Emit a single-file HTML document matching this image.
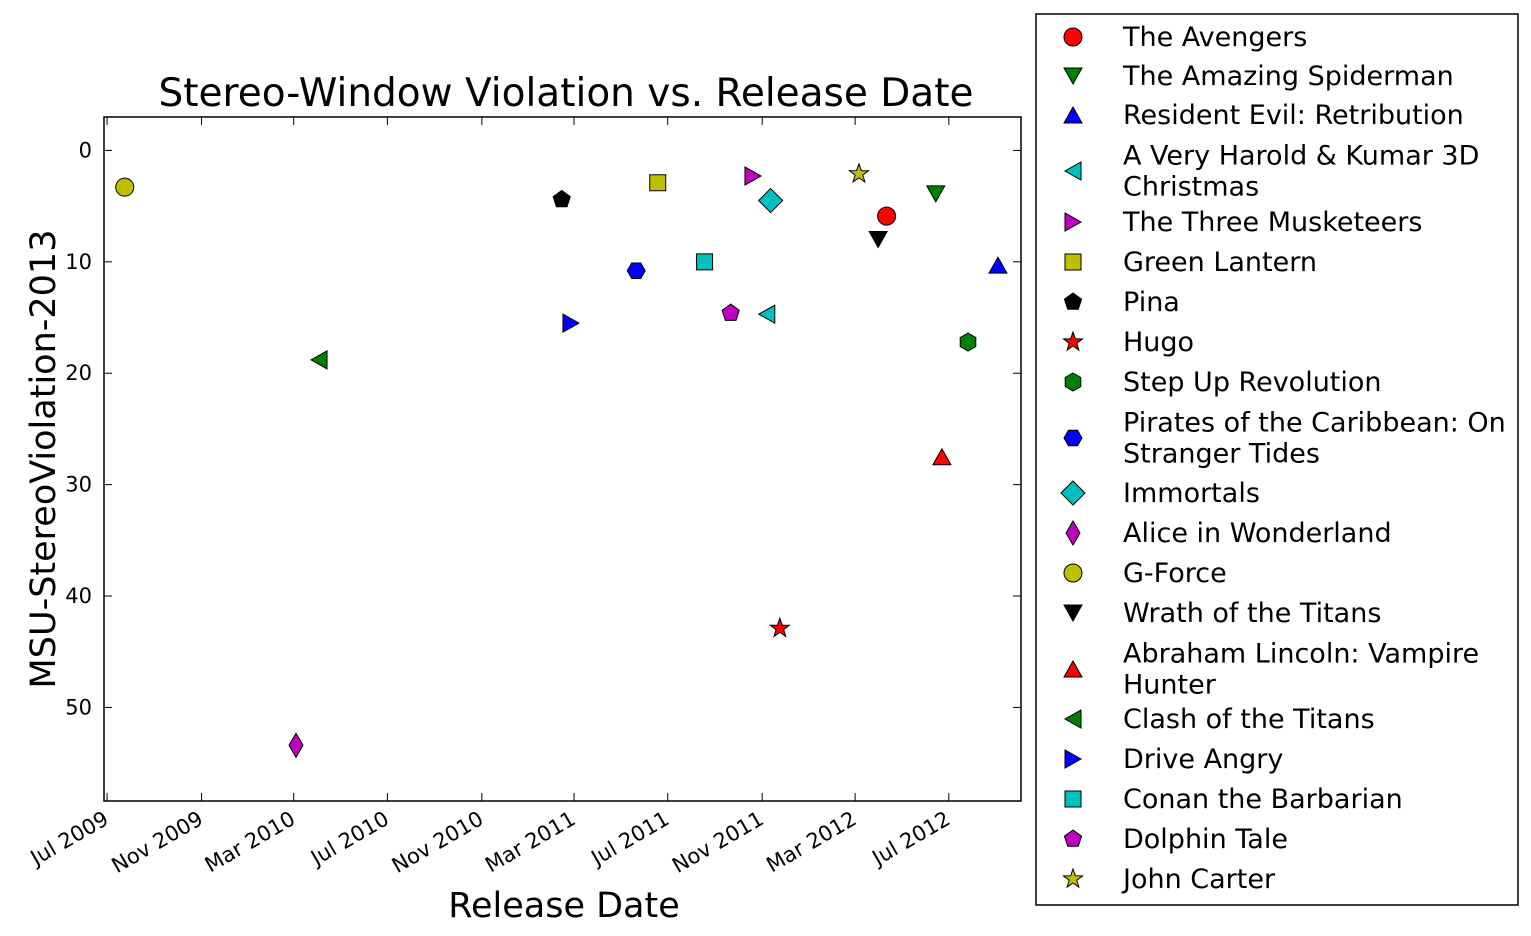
<!DOCTYPE html>
<html><head><meta charset="utf-8"><style>
body{margin:0;background:#fff;}
svg text{font-family:"DejaVu Sans","Liberation Sans",sans-serif;}
</style></head><body>
<svg id="c" width="1531" height="931" xmlns="http://www.w3.org/2000/svg"></svg>
<script>
const movies = ["The Avengers","The Amazing Spiderman","Resident Evil: Retribution","A Very Harold & Kumar 3D Christmas","The Three Musketeers","Green Lantern","Pina","Hugo","Step Up Revolution","Pirates of the Caribbean: On Stranger Tides","Immortals","Alice in Wonderland","G-Force","Wrath of the Titans","Abraham Lincoln: Vampire Hunter","Clash of the Titans","Drive Angry","Conan the Barbarian","Dolphin Tale","John Carter"];
const releaseDates = ["2012-04-11","2012-06-14","2012-09-03","2011-11-07","2011-10-20","2011-06-18","2011-02-13","2011-11-24","2012-07-26","2011-05-21","2011-11-12","2010-03-04","2009-07-24","2012-03-31","2012-06-22","2010-04-03","2011-02-25","2011-08-18","2011-09-21","2012-03-06"];
const violations = [5.9,3.9,10.3,14.7,2.3,2.9,4.4,42.9,17.2,10.8,4.5,53.4,3.3,8.0,27.5,18.8,15.5,10.0,14.6,2.1];
const xTickLabels = ["Jul 2009","Nov 2009","Mar 2010","Jul 2010","Nov 2010","Mar 2011","Jul 2011","Nov 2011","Mar 2012","Jul 2012"];
const xTickDates = ["2009-07-01","2009-11-01","2010-03-01","2010-07-01","2010-11-01","2011-03-01","2011-07-01","2011-11-01","2012-03-01","2012-07-01"];
const yTicks = [0,10,20,30,40,50];
const colors = ["red","green","blue","#00bfbf","#bf00bf","#bfbf00","black","red","green","blue","#00bfbf","#bf00bf","#bfbf00","black","red","green","blue","#00bfbf","#bf00bf","#bfbf00"];
const shapes = ["o","v","^","<",">","s","p","*","h","H","D","d","o","v","^","<",">","s","p","*"];

const NS="http://www.w3.org/2000/svg", svg=document.getElementById('c');
const L=104,R=1021,T=117,B=801;
const d0=Date.parse("2009-06-27"), d1=Date.parse("2012-10-03");
const xs=s=>L+(Date.parse(s)-d0)/(d1-d0)*(R-L);
const y0=-3.0,y1=58.4;
const ys=v=>T+(v-y0)/(y1-y0)*(B-T);
function el(t,a,p){const e=document.createElementNS(NS,t);for(const k in a)e.setAttribute(k,a[k]);(p||svg).appendChild(e);return e;}
function poly(n,r,rot){let p=[];for(let i=0;i<n;i++){const a=rot+i*2*Math.PI/n;p.push([r*Math.cos(a),r*Math.sin(a)]);}return p;}
function marker(sh,cx,cy,col,g){
  let pts;
  if(sh==="o"){return el('circle',{cx,cy,r:9,fill:col,stroke:'#000','stroke-width':1},g);}
  if(sh==="s")pts=[[-8,-8],[8,-8],[8,8],[-8,8]];
  else if(sh==="v")pts=[[-9,-8],[9,-8],[0,8]];
  else if(sh==="^")pts=[[-9,8],[9,8],[0,-8]];
  else if(sh==="<")pts=[[8,-9],[8,9],[-8,0]];
  else if(sh===">")pts=[[-8,-9],[-8,9],[8,0]];
  else if(sh==="D")pts=[[0,-12],[12,0],[0,12],[-12,0]];
  else if(sh==="d")pts=[[0,-12],[7,0],[0,12],[-7,0]];
  else if(sh==="p")pts=poly(5,9,-Math.PI/2);
  else if(sh==="h")pts=poly(6,9,-Math.PI/2);
  else if(sh==="H")pts=poly(6,9,0);
  else if(sh==="*"){pts=[];for(let i=0;i<10;i++){const a=-Math.PI/2+i*Math.PI/5,rr=i%2?4:10;pts.push([rr*Math.cos(a),rr*Math.sin(a)]);}}
  return el('polygon',{points:pts.map(p=>(cx+p[0])+','+(cy+p[1])).join(' '),fill:col,stroke:'#000','stroke-width':1},g);
}
const frame=el('rect',{x:L,y:T,width:R-L,height:B-T,fill:'none',stroke:'#000','stroke-width':1.5});

const t=el('text',{x:566,y:106,'font-size':39,'text-anchor':'middle'});t.textContent="Stereo-Window Violation vs. Release Date";

const xl=el('text',{x:564,y:917,'font-size':35,'text-anchor':'middle'});xl.textContent="Release Date";

const yl=el('text',{x:0,y:0,'font-size':35,'text-anchor':'middle',transform:'translate(55,459) rotate(-90)'});yl.textContent="MSU-StereoViolation-2013";

yTicks.forEach(v=>{const y=ys(v);
  el('line',{x1:L,x2:L+8,y1:y,y2:y,stroke:'#000'});el('line',{x1:R,x2:R-8,y1:y,y2:y,stroke:'#000'});
  const tx=el('text',{x:L-12,y:y+7,'font-size':21,'text-anchor':'end'});tx.textContent=v;
  });
xTickDates.forEach((d,i)=>{const x=xs(d);
  el('line',{x1:x,x2:x,y1:B,y2:B-8,stroke:'#000'});el('line',{x1:x,x2:x,y1:T,y2:T+8,stroke:'#000'});
  const tx=el('text',{x:0,y:0,'font-size':21,'text-anchor':'end',transform:`translate(${x+3},${B+22}) rotate(-30)`});tx.textContent=xTickLabels[i];
  });
movies.forEach((m,i)=>{const mk=marker(shapes[i],xs(releaseDates[i]),ys(violations[i]),colors[i]);
  
  });
const lg=el('g',{});
el('rect',{x:1036,y:14,width:482,height:891,fill:'#fff',stroke:'#000','stroke-width':1.5},lg);
const legendLines=[["The Avengers"],["The Amazing Spiderman"],["Resident Evil: Retribution"],["A Very Harold & Kumar 3D","Christmas"],["The Three Musketeers"],["Green Lantern"],["Pina"],["Hugo"],["Step Up Revolution"],["Pirates of the Caribbean: On","Stranger Tides"],["Immortals"],["Alice in Wonderland"],["G-Force"],["Wrath of the Titans"],["Abraham Lincoln: Vampire","Hunter"],["Clash of the Titans"],["Drive Angry"],["Conan the Barbarian"],["Dolphin Tale"],["John Carter"]];
const ly=[37,76,115,171,222,262,302,342,382,438,493,533,573,613,669,719,759,799,839,879];
legendLines.forEach((ls,i)=>{const g=el('g',{},lg);
  
  marker(shapes[i],1073,ly[i],colors[i],g);
  const tx=el('text',{x:1123,y:ly[i]+9-(ls.length-1)*15.5,'font-size':27},g);
  ls.forEach((s,j)=>{const sp=el('tspan',{x:1123,dy:j?31:0},tx);sp.textContent=s;});});
</script>
</body></html>
